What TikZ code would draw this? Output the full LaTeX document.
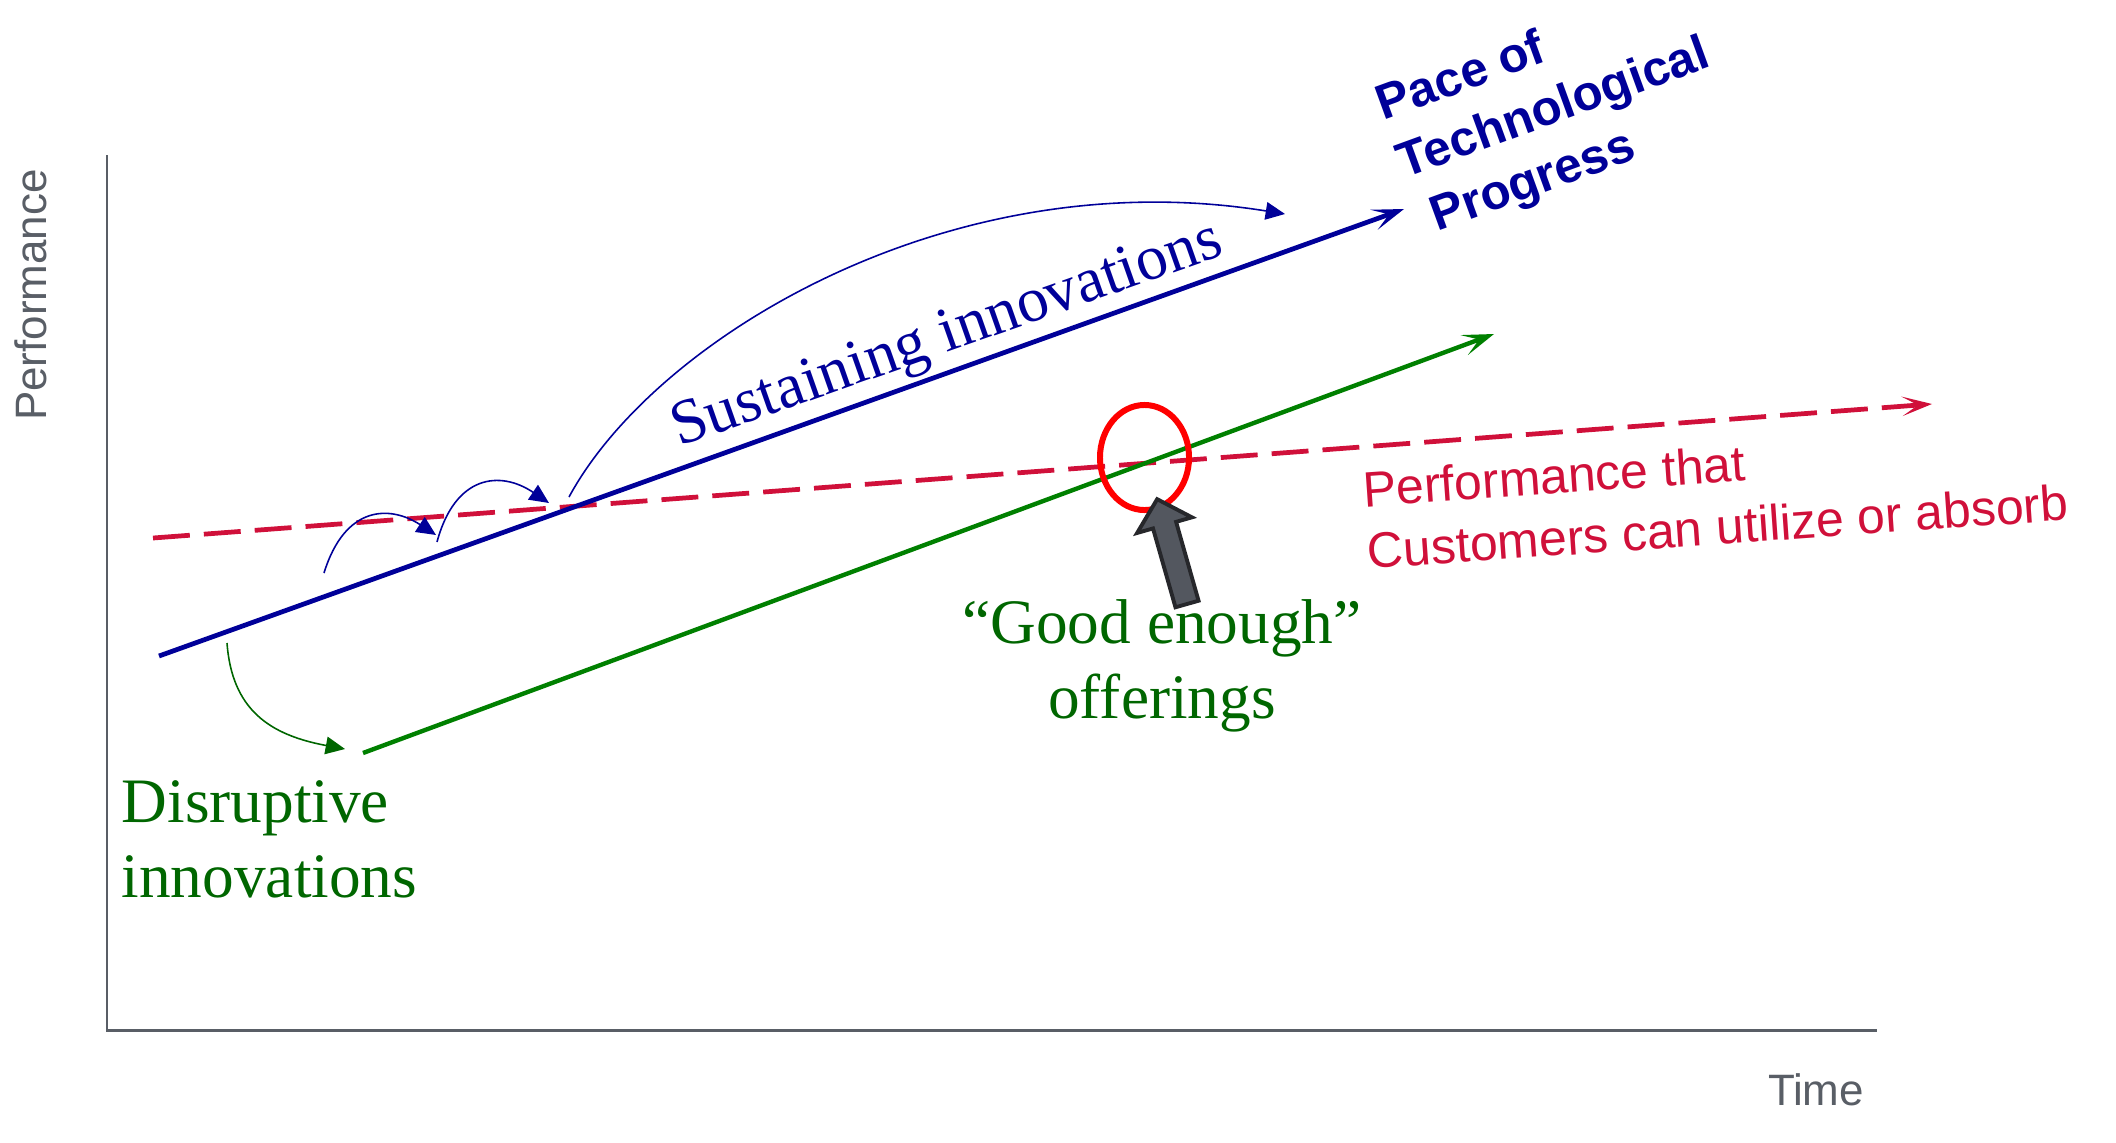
\documentclass[tikz,border=0pt]{standalone}
\usepackage{fontspec}
\setmainfont{Liberation Serif}
\setsansfont{Liberation Sans}
\usetikzlibrary{arrows.meta,shapes.geometric}
\definecolor{techblue}{RGB}{0,0,153}
\definecolor{disgreen}{RGB}{0,128,0}
\definecolor{txtgreen}{RGB}{0,102,0}
\definecolor{custred}{RGB}{208,16,58}
\definecolor{hired}{RGB}{255,0,0}
\definecolor{axisgray}{RGB}{89,94,102}
\definecolor{ptrgray}{RGB}{83,87,95}
\definecolor{ptrdark}{RGB}{38,39,43}
\tikzset{axisline/.style={draw=axisgray,line width=0.85pt}}
\tikzset{axislabel/.style={text=axisgray,inner sep=0pt,font=\sffamily\fontsize{12.5}{15}\selectfont}}
\tikzset{progress/.style={draw=techblue,line width=1.35pt,-{Stealth[length=9pt,width=6pt,inset=4.5pt]}}}
\tikzset{disrupt/.style={draw=disgreen,line width=1.25pt,-{Stealth[length=9pt,width=6pt,inset=4.5pt]}}}
\tikzset{need/.style={draw=custred,line width=1.35pt,dash pattern=on 10.5pt off 4pt,-{Stealth[length=8.5pt,width=5.5pt,inset=4.5pt]}}}
\tikzset{hop/.style={draw=techblue,line width=0.45pt,-{Triangle[length=5.5pt,width=5pt]}}}
\tikzset{hopgreen/.style={draw=txtgreen,line width=0.45pt,-{Triangle[length=5.5pt,width=5pt]}}}
\tikzset{focus/.style={ellipse,draw=hired,line width=1.7pt,minimum width=0.89cm,minimum height=1.05cm,inner sep=0pt}}
\tikzset{serifgreen/.style={text=txtgreen,inner sep=0pt,font=\fontsize{18}{21.3}\selectfont}}

\begin{document}
\begin{tikzpicture}[x=0.01cm,y=-0.01cm]
  \useasboundingbox (0,0) rectangle (2116,1142);

  % axes
  \coordinate (ytop) at (107,155);
  \coordinate (o) at (107,1030);
  \coordinate (xend) at (1877,1030);
  \draw[axisline] (ytop) -- (o) -- (xend);
  \node[axislabel,rotate=90,anchor=base] (perf) at (46,295) {Performance};
  \node[axislabel,anchor=base] (time) at (1816,1105) {Time};

  % the three trends
  \coordinate (c0) at (153,538);
  \coordinate (c1) at (1932,404);
  \coordinate (s0) at (159,656);
  \coordinate (s1) at (1404,209);
  \coordinate (d0) at (363,753);
  \coordinate (d1) at (1494,334);
  \draw[need] (c0) -- (c1);
  \draw[progress] (s0) -- (s1);
  \draw[disrupt] (d0) -- (d1);

  % small jumps
  \coordinate (h0) at (324,573);
  \coordinate (h1) at (436,535);
  \coordinate (h2) at (437,542);
  \coordinate (h3) at (549,503);
  \coordinate (h4) at (569,497);
  \coordinate (h5) at (1285,214);
  \coordinate (g0) at (227,643);
  \coordinate (g1) at (345,749);
  \draw[hop] (h0) .. controls (345,505) and (390,505) .. (h1);
  \draw[hop] (h2) .. controls (455,475) and (500,470) .. (h3);
  \draw[hop] (h4) .. controls (655,338) and (950,160) .. (h5);
  \draw[hopgreen] (g0) .. controls (232,710) and (270,735) .. (g1);

  % labels (base of a multi-line node = its last line)
  \node[text=techblue,inner sep=0pt,rotate=19.4,anchor=base west,
        font=\fontsize{18}{21.3}\selectfont] (sus) at (679,447) {Sustaining innovations};
  \node[text=techblue,inner sep=0pt,rotate=20,anchor=base west,align=left,
        font=\sffamily\bfseries\fontsize{14}{17.4}\selectfont] (pace) at (1425,236)
        {Pace of\\Technological\\\hspace*{0.25em}Progress};
  \node[text=custred,inner sep=0pt,rotate=4,anchor=base west,align=left,
        font=\sffamily\fontsize{14.2}{17.6}\selectfont] (cust) at (1368,569)
        {Performance that\\Customers can utilize or absorb};
  \node[serifgreen,anchor=base,align=center] (good) at (1162,718) {“Good enough”\\offerings};
  \node[serifgreen,anchor=base west,align=left] (dis) at (121,897) {Disruptive\\innovations};

  % good enough point
  \node[focus] (circ) at (1144.5,457.5) {};
  \coordinate (ptr) at (1187,604);
  \begin{scope}[shift={(ptr)},rotate=105.9]
    \draw[fill=ptrgray,draw=ptrdark,line width=1.1pt,line join=miter]
      (0,-12) -- (82,-12) -- (82,-28.5) -- (109,0) -- (82,28.5) -- (82,12) -- (0,12) -- cycle;
  \end{scope}
\end{tikzpicture}
\end{document}
